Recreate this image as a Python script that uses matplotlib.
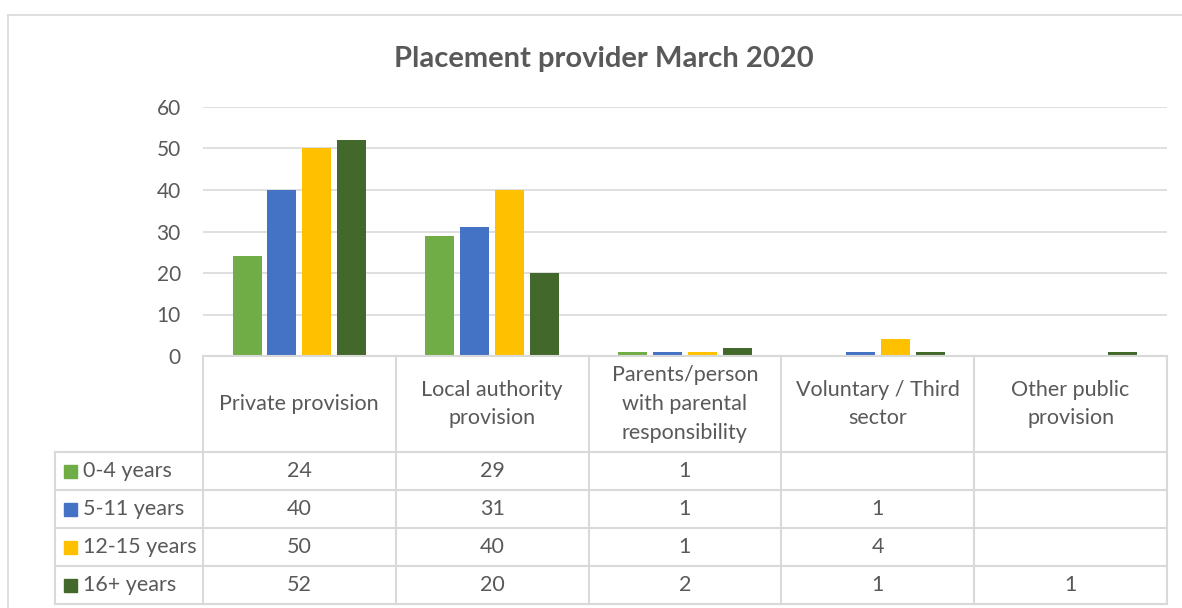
import numpy as np
import matplotlib
matplotlib.use('Agg')
import matplotlib.pyplot as plt
from matplotlib.lines import Line2D

# data
categories = ['Private provision', 'Local authority\nprovision',
              'Parents/person\nwith parental\nresponsibility',
              'Voluntary / Third\nsector', 'Other public\nprovision']
series_names = ['0-4 years', '5-11 years', '12-15 years', '16+ years']
age_0_4 = [24, 29, 1, np.nan, np.nan]
age_5_11 = [40, 31, 1, 1, np.nan]
age_12_15 = [50, 40, 1, 4, np.nan]
age_16_plus = [52, 20, 2, 1, 1]
colors = ['#70AD47', '#4472C4', '#FFC000', '#43682B']

plt.rcParams['font.family'] = ['Lato', 'DejaVu Sans']
txt = '#595959'
grid = '#D9D9D9'
fs = 15.5

W, H = 1182, 608
def rect(l, t, r, b):
    return [l / W, 1 - b / H, (r - l) / W, (b - t) / H]

fig = plt.figure(figsize=(W / 100, H / 100), dpi=100)

# outer chart border
fig.add_artist(Line2D([8 / W, 8 / W], [0, 1 - 15 / H], transform=fig.transFigure, color=grid, lw=1.2))
fig.add_artist(Line2D([8 / W, 1], [1 - 15 / H, 1 - 15 / H], transform=fig.transFigure, color=grid, lw=1.2))

fig.text(604 / W, 1 - 59 / H, 'Placement provider March 2020', ha='center', va='center',
         fontsize=21, fontweight='bold', color=txt)

ax = fig.add_axes(rect(203, 107, 1167, 356))
all_series = [age_0_4, age_5_11, age_12_15, age_16_plus]
x = np.arange(len(categories))
bw = 0.15
step = 0.181
for i, vals in enumerate(all_series):
    ax.bar(x + (i - 1.5) * step, vals, width=bw, color=colors[i], zorder=3)
ax.set_xlim(-0.5, 4.5)
ax.set_ylim(0, 60)
ax.set_yticks(range(0, 70, 10))
ax.set_xticks([])
ax.yaxis.grid(True, color=grid, lw=1.2, zorder=0)
for s in ax.spines.values():
    s.set_visible(False)
ax.tick_params(axis='y', length=0, pad=16, labelsize=15, labelcolor=txt)

# data table below the axis
leg_w = 148 / 193
tab = fig.add_axes(rect(55, 356, 1167, 604))
tab.set_xlim(-0.5 - leg_w, 4.5)
tab.set_ylim(604, 356)
tab.axis('off')
row_edges = [356, 452, 490, 528, 566, 604]
for k, y in enumerate(row_edges):
    x0 = -0.5 if k == 0 else -0.5 - leg_w
    tab.plot([x0, 4.5], [y, y], color=grid, lw=1.5, clip_on=False)
for xe in np.arange(-0.5, 5.0, 1.0):
    tab.plot([xe, xe], [356, 604], color=grid, lw=1.5, clip_on=False)
tab.plot([-0.5 - leg_w] * 2, [452, 604], color=grid, lw=1.5, clip_on=False)

for j, cat in enumerate(categories):
    tab.text(j, 404, cat, ha='center', va='center', fontsize=fs, color=txt, linespacing=1.55)

for i, (name, vals) in enumerate(zip(series_names, all_series)):
    yc = (row_edges[i + 1] + row_edges[i + 2]) / 2
    tab.add_patch(plt.Rectangle((-0.5 - leg_w + 9 / 193, yc - 6.5), 13 / 193, 13,
                                color=colors[i], clip_on=False))
    tab.text(-0.5 - leg_w + 28 / 193, yc, name, ha='left', va='center', fontsize=fs, color=txt)
    for j, v in enumerate(vals):
        if not np.isnan(v):
            tab.text(j, yc, str(int(v)), ha='center', va='center', fontsize=fs, color=txt)

fig.savefig('out.png', dpi=100, facecolor='white')
